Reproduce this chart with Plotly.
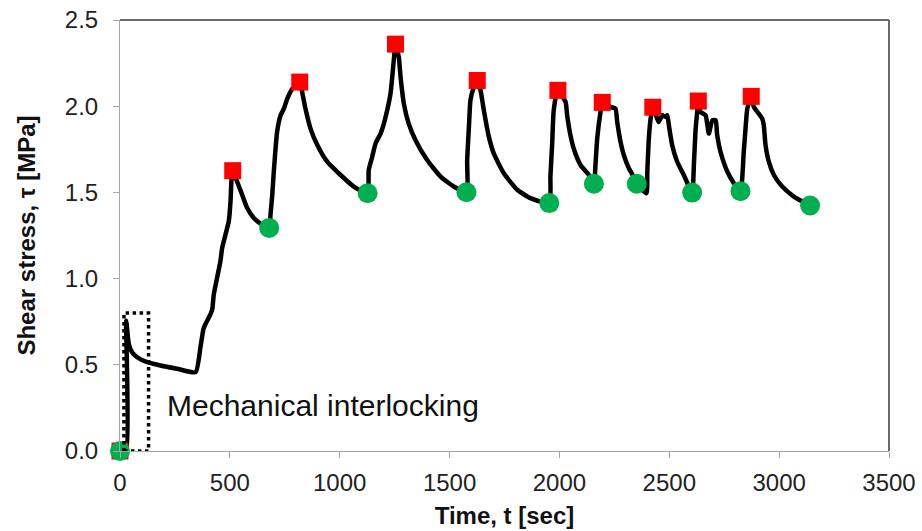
import plotly.graph_objects as go

# Shear stress history of the joint, time in seconds, stress in MPa
time_s = [
    0, 28, 28, 40, 55, 78, 124, 184, 260, 344,
    366, 380, 389, 412, 420, 427, 442, 457, 465, 480, 495, 503, 507, 513,
    533, 556, 579, 609, 647, 679,
    685, 693, 700, 708, 715, 731, 746, 761, 784, 818,
    829, 844, 867, 898, 943, 1004, 1064, 1127,
    1132, 1148, 1163, 1186, 1201, 1216, 1231, 1239, 1246, 1254,
    1269, 1277, 1292, 1314, 1345, 1398, 1459, 1519, 1577,
    1580, 1588, 1595, 1608, 1626,
    1641, 1656, 1679, 1701, 1747, 1808, 1868, 1954,
    1959, 1967, 1974, 1991,
    2028, 2035, 2050, 2065, 2096, 2134, 2157,
    2164, 2172, 2187, 2195,
    2233, 2255, 2263, 2278, 2293, 2316, 2346, 2352, 2396,
    2400, 2407, 2415, 2425,
    2445, 2452, 2468, 2483, 2491, 2498, 2513, 2536, 2566, 2604,
    2612, 2619, 2627, 2632,
    2642, 2665, 2680, 2696, 2711, 2718, 2733, 2764, 2794, 2824,
    2839, 2847, 2855, 2873,
    2885, 2907, 2923, 2930, 2938, 2953, 2976, 3014, 3067, 3141,
]
shear_mpa = [
    0.0, 0.0, 0.755, 0.621, 0.573, 0.544, 0.515, 0.496, 0.477, 0.457,
    0.601, 0.709, 0.736, 0.794, 0.823, 0.909, 1.005, 1.101, 1.178, 1.255, 1.332, 1.448, 1.563, 1.626,
    1.563, 1.486, 1.409, 1.351, 1.313, 1.294,
    1.371, 1.486, 1.621, 1.755, 1.851, 1.947, 1.986, 2.043, 2.101, 2.140,
    2.082, 1.986, 1.870, 1.775, 1.678, 1.601, 1.534, 1.495,
    1.630, 1.707, 1.784, 1.841, 1.899, 1.976, 2.072, 2.168, 2.265, 2.360,
    2.284, 2.168, 2.014, 1.899, 1.803, 1.688, 1.592, 1.534, 1.501,
    1.688, 1.880, 2.034, 2.101, 2.149,
    2.092, 1.976, 1.822, 1.726, 1.611, 1.515, 1.467, 1.438,
    1.592, 1.784, 1.976, 2.092,
    2.024, 1.948, 1.832, 1.755, 1.659, 1.601, 1.550,
    1.659, 1.813, 1.967, 2.022,
    1.995, 1.986, 1.909, 1.794, 1.717, 1.640, 1.573, 1.550, 1.495,
    1.620, 1.813, 1.928, 1.994,
    1.928, 1.909, 1.947, 1.938, 1.947, 1.890, 1.775, 1.678, 1.601, 1.499,
    1.659, 1.851, 1.967, 2.030,
    1.967, 1.947, 1.841, 1.919, 1.919, 1.832, 1.736, 1.621, 1.553, 1.507,
    1.736, 1.870, 1.986, 2.057,
    1.995, 1.957, 1.928, 1.890, 1.775, 1.678, 1.601, 1.534, 1.476, 1.424,
]

# Load-cycle peaks (red squares) and relaxed minima (green circles)
peak_t = [0, 513, 818, 1254, 1626, 1993, 2195, 2425, 2632, 2873]
peak_tau = [0.0, 1.626, 2.140, 2.360, 2.149, 2.092, 2.022, 1.994, 2.030, 2.057]
valley_t = [0, 679, 1127, 1577, 1954, 2157, 2352, 2604, 2824, 3141]
valley_tau = [0.0, 1.294, 1.495, 1.501, 1.438, 1.550, 1.550, 1.499, 1.507, 1.424]

# Region highlighted as mechanical interlocking
box_t = [18, 130]
box_tau = [0.0, 0.80]

x_ticks = [0, 500, 1000, 1500, 2000, 2500, 3000, 3500]
y_ticks = [0.0, 0.5, 1.0, 1.5, 2.0, 2.5]

FONT = "Liberation Sans, Arial, sans-serif"

fig = go.Figure()
fig.add_trace(go.Scatter(
    x=time_s, y=shear_mpa, mode="lines",
    line=dict(color="black", width=4.5, shape="spline", smoothing=0.5),
    showlegend=False, hoverinfo="skip",
))
fig.add_trace(go.Scatter(
    x=peak_t, y=peak_tau, mode="markers",
    marker=dict(symbol="square", size=17, color="#ff0000"),
    showlegend=False, cliponaxis=False,
))
fig.add_trace(go.Scatter(
    x=valley_t, y=valley_tau, mode="markers",
    marker=dict(symbol="circle", size=20, color="#00b050"),
    showlegend=False, cliponaxis=False,
))

fig.add_shape(type="rect", xref="x", yref="y",
              x0=box_t[0], x1=box_t[1], y0=box_tau[0], y1=box_tau[1],
              line=dict(color="black", width=3.5, dash="dot"), layer="above")

# darker frame along the top and right edges
fig.add_shape(type="line", xref="paper", yref="paper", x0=0, x1=1, y0=1, y1=1,
              line=dict(color="#6b6b6b", width=2))
fig.add_shape(type="line", xref="paper", yref="paper", x0=1, x1=1, y0=0, y1=1,
              line=dict(color="#6b6b6b", width=2))

fig.add_annotation(x=206, y=0.265, xref="x", yref="y",
                   text="Mechanical interlocking", showarrow=False,
                   xanchor="left", yanchor="middle",
                   font=dict(family=FONT, size=30, color="#111111"))

fig.update_xaxes(
    range=[0, 3500], tickvals=x_ticks, ticktext=[str(v) for v in x_ticks],
    showline=True, linecolor="#a6a6a6", linewidth=1,
    ticks="outside", ticklen=6, tickcolor="#a6a6a6", tickwidth=1,
    showgrid=False, zeroline=False,
    tickfont=dict(family=FONT, size=24, color="#222222"),
    ticklabelstandoff=4,
    title=dict(text="<b>Time, t [sec]</b>", standoff=12,
               font=dict(family=FONT, size=24, color="#111111")),
)
fig.update_yaxes(
    range=[0, 2.5], tickvals=y_ticks, ticktext=[f"{v:.1f}" for v in y_ticks],
    showline=True, linecolor="#a6a6a6", linewidth=1,
    ticks="outside", ticklen=6, tickcolor="#a6a6a6", tickwidth=1,
    showgrid=False, zeroline=False,
    tickfont=dict(family=FONT, size=24, color="#222222"),
    ticklabelstandoff=10,
    title=dict(text="<b>Shear stress, τ [MPa]</b>", standoff=22,
               font=dict(family=FONT, size=24, color="#111111")),
)

fig.update_layout(
    width=922, height=531,
    margin=dict(l=120, r=33, t=20, b=80, autoexpand=False),
    paper_bgcolor="white", plot_bgcolor="white",
    showlegend=False,
)

fig.write_html("out.html")
